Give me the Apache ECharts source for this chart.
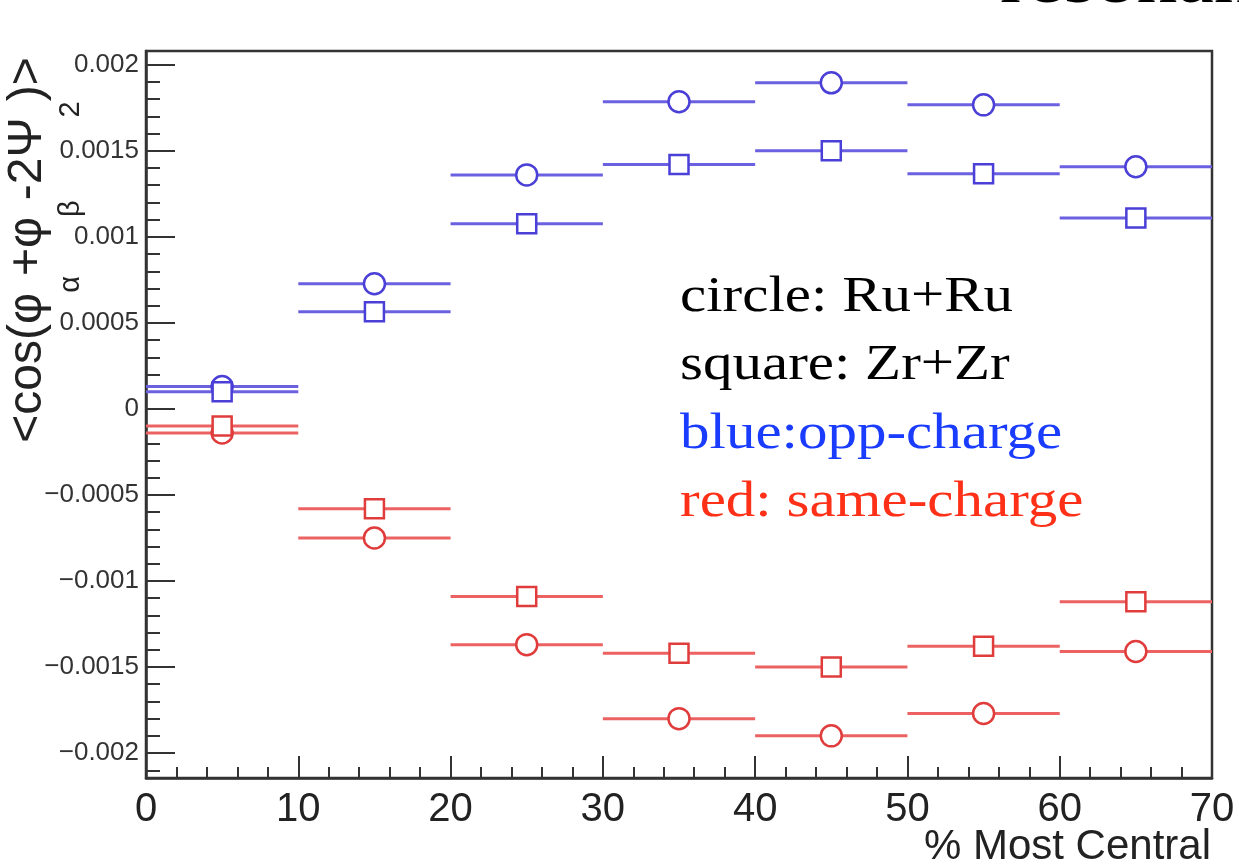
<!DOCTYPE html>
<html>
<head>
<meta charset="utf-8">
<script src="https://cdn.jsdelivr.net/npm/echarts@6/dist/echarts.min.js"></script>
<style>
  html, body { margin: 0; padding: 0; background: #fff; }
  #chart { width: 1239px; height: 866px; }
</style>
</head>
<body>
<div id="chart"></div>
<script>
// Centrality bins (% most central)
const binLow  = [0, 10, 20, 30, 40, 50, 60];
const binHigh = [10, 20, 30, 40, 50, 60, 70];
const binMid  = [5, 15, 25, 35, 45, 55, 65];

// <cos(phi_a + phi_b - 2 Psi_2)> per bin
const oppRuRu  = [0.00013, 0.000727, 0.00136, 0.001785, 0.001895, 0.001767, 0.001407];
const oppZrZr  = [0.00010, 0.000564, 0.001076, 0.00142, 0.00150, 0.001366, 0.00111];
const sameRuRu = [-0.00014, -0.00075, -0.00137, -0.00180, -0.00190, -0.00177, -0.00141];
const sameZrZr = [-0.00010, -0.00058, -0.00109, -0.00142, -0.00150, -0.00138, -0.00112];

// Axis settings
const xTicks = [0, 10, 20, 30, 40, 50, 60, 70];
const yLabelStep = 0.0005;

// Annotation lines
const noteLines = ['circle: Ru+Ru', 'square: Zr+Zr', 'blue:opp-charge', 'red: same-charge'];

const BLUE_LINE = '#6a60e0', BLUE_MARK = '#4a3fd6';
const RED_LINE = '#ec6262', RED_MARK = '#e03c3c';

function barData(vals) {
  return vals.map((v, i) => [binLow[i], binHigh[i], v]);
}
function pointData(vals) {
  return vals.map((v, i) => [binMid[i], v]);
}
function barSeries(vals, color) {
  return {
    type: 'custom',
    data: barData(vals),
    encode: { x: [0, 1], y: 2 },
    z: 2,
    renderItem: function (params, api) {
      const a = api.coord([api.value(0), api.value(2)]);
      const b = api.coord([api.value(1), api.value(2)]);
      return {
        type: 'line',
        shape: { x1: a[0], y1: a[1], x2: b[0], y2: b[1] },
        style: { stroke: color, lineWidth: 3 }
      };
    }
  };
}
function markSeries(vals, symbol, size, color) {
  return {
    type: 'scatter',
    data: pointData(vals),
    symbol: symbol,
    symbolSize: size,
    z: 5,
    itemStyle: { color: '#fff', borderColor: color, borderWidth: 2.5, opacity: 1 }
  };
}

function fmtY(v) {
  const r = Math.round(v / yLabelStep) * yLabelStep;
  if (Math.abs(r - v) > 1e-9) return '';
  if (Math.abs(r) < 1e-12) return '0';
  const s = parseFloat(Math.abs(r).toFixed(4)).toString();
  return (r < 0 ? '\u2212' : '') + s;
}

const chart = echarts.init(document.getElementById('chart'), null, { renderer: 'canvas' });

const axisColor = '#333';
const noteColors = ['#000', '#000', '#1a3cff', '#ff3018'];
const noteY = [298, 366, 435, 503];

const graphics = [
  {
    type: 'text', x: 1000, y: -16,
    style: { text: 'resonance', font: '70px "Liberation Serif"', fill: '#000',
             align: 'left', verticalAlign: 'middle', textAlign: 'left', textVerticalAlign: 'middle' },
    scaleX: 1.17, z: 10
  },
  {
    type: 'text', x: 1211, y: 847,
    style: { text: '% Most Central', font: '42px "Liberation Sans"', fill: '#222',
             align: 'right', verticalAlign: 'middle', textAlign: 'right', textVerticalAlign: 'middle' },
    z: 10
  },
  {
    type: 'text', x: 4, y: 250, rotation: Math.PI / 2,
    style: {
      text: '{m|<cos(\u03c6}{s|\u03b1}{m|+\u03c6}{s|\u03b2}{m|-2\u03a8}{s|2}{m|)>}',
      align: 'center', verticalAlign: 'top', textAlign: 'center', textVerticalAlign: 'top',
      rich: {
        m: { fontSize: 48, fontFamily: 'Liberation Sans', fill: '#222', verticalAlign: 'top' },
        s: { fontSize: 29, fontFamily: 'Liberation Sans', fill: '#222', verticalAlign: 'top', padding: [52, 0, 0, 0] }
      }
    },
    z: 10
  }
];
noteLines.forEach((t, i) => {
  graphics.push({
    type: 'text', x: 680, y: noteY[i],
    style: { text: t, font: '50px "Liberation Serif"', fill: noteColors[i],
             align: 'left', verticalAlign: 'middle', textAlign: 'left', textVerticalAlign: 'middle' },
    scaleX: 1.18, z: 10
  });
});

chart.setOption({
  animation: false,
  backgroundColor: '#fff',
  grid: {
    left: 146, right: 27, top: 51, bottom: 88,
    show: true, borderColor: axisColor, borderWidth: 2.5, backgroundColor: 'transparent'
  },
  xAxis: {
    type: 'value', min: xTicks[0], max: xTicks[xTicks.length - 1], interval: 10,
    axisLine: { show: true, onZero: false, lineStyle: { color: axisColor, width: 2.5 } },
    axisTick: { show: true, inside: true, length: 22, lineStyle: { color: axisColor, width: 2 } },
    minorTick: { show: true, splitNumber: 5, length: 11, lineStyle: { color: axisColor, width: 2 } },
    axisLabel: { fontSize: 40, fontFamily: 'Liberation Sans', color: '#222', margin: 12 },
    splitLine: { show: false }, minorSplitLine: { show: false }
  },
  yAxis: {
    type: 'value', min: -0.002145, max: 0.00208,
    splitNumber: 8, minInterval: yLabelStep, maxInterval: yLabelStep,
    axisLine: { show: true, onZero: false, lineStyle: { color: axisColor, width: 2.5 } },
    axisTick: { show: true, inside: true, length: 29, lineStyle: { color: axisColor, width: 2 } },
    minorTick: { show: true, splitNumber: 5, length: 14, lineStyle: { color: axisColor, width: 2 } },
    axisLabel: { fontSize: 26, fontFamily: 'Liberation Sans', color: '#333', margin: 7,
                 showMinLabel: false, showMaxLabel: false, formatter: fmtY },
    splitLine: { show: false }, minorSplitLine: { show: false }
  },
  graphic: graphics,
  series: [
    barSeries(oppRuRu, BLUE_LINE),
    barSeries(oppZrZr, BLUE_LINE),
    barSeries(sameRuRu, RED_LINE),
    barSeries(sameZrZr, RED_LINE),
    markSeries(oppRuRu, 'circle', 21, BLUE_MARK),
    markSeries(oppZrZr, 'rect', 19, BLUE_MARK),
    markSeries(sameRuRu, 'circle', 21, RED_MARK),
    markSeries(sameZrZr, 'rect', 19, RED_MARK)
  ]
});
</script>
</body>
</html>
